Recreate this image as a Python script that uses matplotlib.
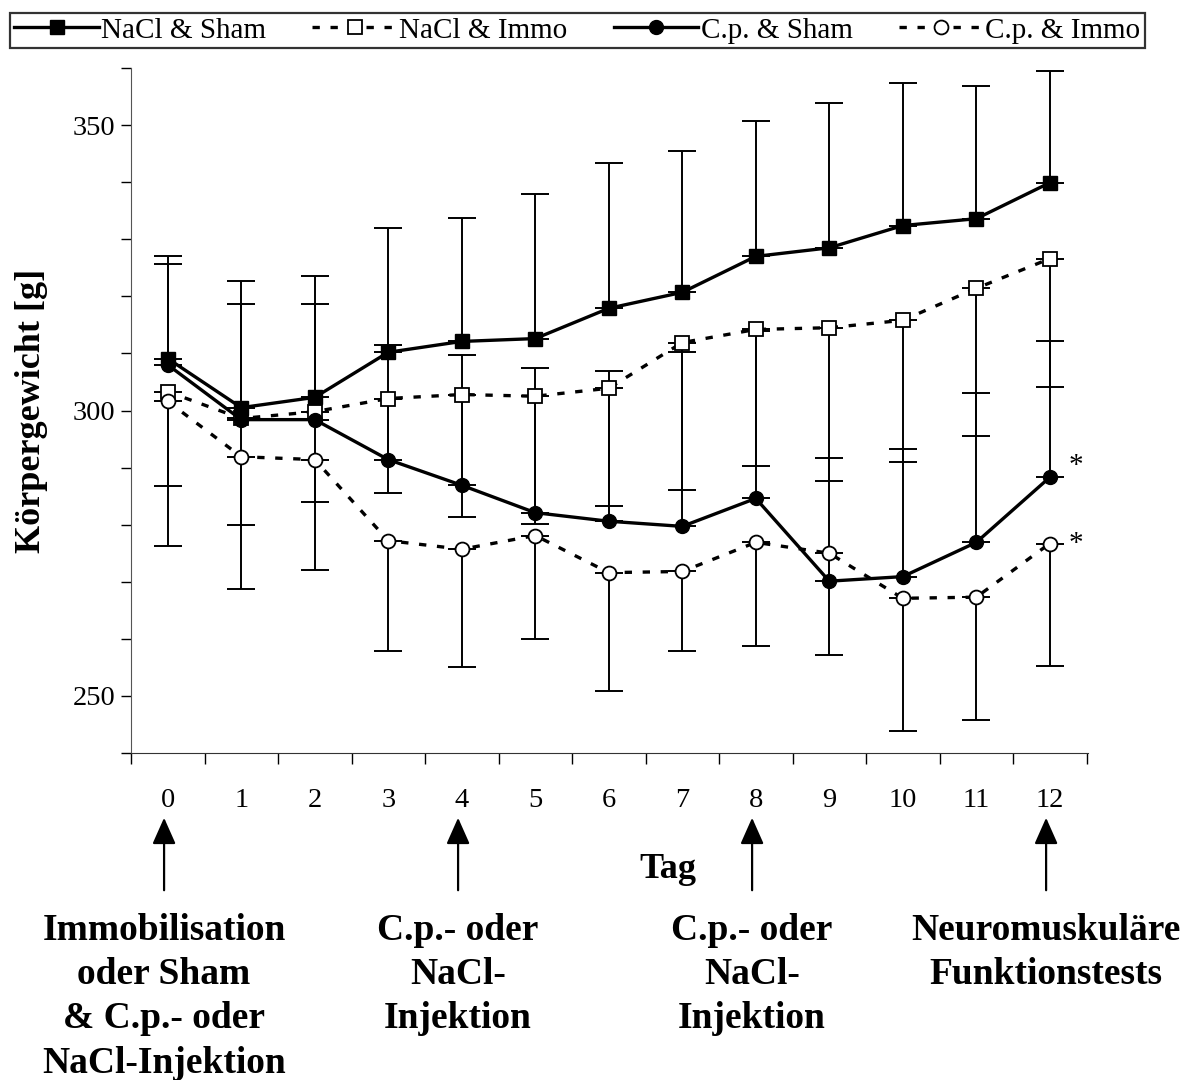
import numpy as np
import matplotlib.pyplot as plt

# Tage und Mittelwerte (Körpergewicht in g)
tage = np.arange(13)
nacl_sham = [309.1, 300.5, 302.3, 310.2, 312.1, 312.6, 317.9, 320.7, 327.0, 328.5, 332.4, 333.6, 339.9]
nacl_immo = [303.3, 298.6, 299.8, 302.1, 302.8, 302.5, 303.9, 311.9, 314.2, 314.5, 315.8, 321.4, 326.6]
cp_sham = [308.0, 298.4, 298.4, 291.4, 286.9, 282.1, 280.6, 279.7, 284.6, 270.1, 270.9, 276.9, 288.3]
cp_immo = [301.6, 291.9, 291.4, 277.2, 275.7, 278.1, 271.6, 271.8, 276.9, 275.0, 267.1, 267.3, 276.7]

# Standardabweichungen (nur eine Richtung gezeichnet)
sd_nacl_sham = [17.9, 22.1, 21.2, 21.7, 21.7, 25.4, 25.4, 24.8, 23.8, 25.4, 24.9, 23.3, 19.5]
sd_nacl_immo = [16.6, 18.7, 15.9, 16.5, 21.4, 22.3, 20.7, 25.9, 24.0, 26.8, 24.9, 25.8, 22.4]
sd_cp_sham = [17.6, 20.3, 20.3, 20.0, 22.9, 25.3, 26.4, 30.6, 29.4, 21.5, 22.4, 26.1, 23.8]
sd_cp_immo = [25.4, 23.1, 19.4, 19.4, 20.7, 18.2, 20.8, 14.0, 18.1, 17.9, 23.3, 21.6, 21.4]

pfeil_tage = [0, 4, 8, 12]
pfeil_texte = ["Immobilisation\noder Sham\n& C.p.- oder\nNaCl-Injektion",
               "C.p.- oder\nNaCl-\nInjektion",
               "C.p.- oder\nNaCl-\nInjektion",
               "Neuromuskuläre\nFunktionstests"]
# Signifikanzsterne neben Tag 12
stern_x = [12.35, 12.35]
stern_y = [290.3, 276.6]

serif = 'Liberation Serif'
plt.rcParams['font.family'] = serif

W, H = 1195, 1080
fig = plt.figure(figsize=(W / 100, H / 100), dpi=100)
ax = fig.add_axes([131 / W, 1 - 753 / H, (1088 - 131) / W, (753 - 68) / H])

null = np.zeros(13)
fehler_stil = dict(fmt='none', ecolor='black', elinewidth=1.4, capsize=10, capthick=1.4, zorder=1)
ax.errorbar(tage, nacl_sham, yerr=[null, sd_nacl_sham], **fehler_stil)
ax.errorbar(tage, cp_sham, yerr=[null, sd_cp_sham], **fehler_stil)
ax.errorbar(tage, nacl_immo, yerr=[sd_nacl_immo, null], **fehler_stil)
ax.errorbar(tage, cp_immo, yerr=[sd_cp_immo, null], **fehler_stil)

strich = (0, (2.2, 3.2))
l1, = ax.plot(tage, nacl_sham, color='black', lw=2.4, marker='s', ms=10,
              mfc='black', mec='black', zorder=4, label='NaCl & Sham')
l2, = ax.plot(tage, nacl_immo, color='black', lw=2.4, ls=strich, marker='s', ms=10,
              mfc='white', mec='black', mew=1.3, zorder=3, label='NaCl & Immo')
l3, = ax.plot(tage, cp_sham, color='black', lw=2.4, marker='o', ms=10,
              mfc='black', mec='black', zorder=4, label='C.p. & Sham')
l4, = ax.plot(tage, cp_immo, color='black', lw=2.4, ls=strich, marker='o', ms=10,
              mfc='white', mec='black', mew=1.3, zorder=3, label='C.p. & Immo')

for x, y in zip(stern_x, stern_y):
    ax.text(x, y, '*', fontsize=21, ha='center', va='center')

ax.set_xlim(-0.5, 12.52)
ax.set_ylim(240, 360)
ax.set_xticks(tage)
ax.set_xticks(np.arange(-0.5, 13, 1), minor=True)
ax.tick_params(axis='x', which='major', length=0, pad=25, labelsize=20.5)
ax.tick_params(axis='x', which='minor', length=8, direction='out', width=1)
ax.set_yticks([250, 300, 350])
ax.set_yticks(np.arange(240, 361, 10), minor=True)
ax.tick_params(axis='y', which='both', length=7, direction='out', width=1)
ax.tick_params(axis='y', which='major', pad=4, labelsize=20.5)
for s in ['top', 'right']:
    ax.spines[s].set_visible(False)
ax.spines['left'].set_color('#555555')
ax.spines['bottom'].set_color('#333333')

fig.text(32 / W, 1 - 411 / H, 'Körpergewicht [g]', rotation=90, fontsize=26,
         fontweight='bold', ha='center', va='center')
fig.text(668 / W, 1 - 870 / H, 'Tag', fontsize=26, fontweight='bold',
         ha='center', va='center')

# Pfeile und Beschriftungen
for t, txt in zip(pfeil_tage, pfeil_texte):
    ax.annotate('', xy=(t - 0.05, 1 - 815 / H), xytext=(t - 0.05, 1 - 893 / H),
                xycoords=('data', 'figure fraction'), textcoords=('data', 'figure fraction'),
                arrowprops=dict(arrowstyle='-|>,head_length=0.9,head_width=0.4',
                                mutation_scale=18, lw=1.6, color='black'),
                annotation_clip=False)
    ax.annotate(txt, xy=(t - 0.05, 1 - 913 / H), xycoords=('data', 'figure fraction'),
                ha='center', va='top', fontsize=27, fontweight='bold',
                linespacing=1.34, annotation_clip=False)

leg = fig.legend(handles=[l1, l2, l3, l4], loc='lower left', ncol=4, mode='expand',
                 bbox_to_anchor=(10 / W, 1 - 48 / H, 1135 / W, 38 / H),
                 fontsize=21, frameon=True, fancybox=False, edgecolor='black',
                 handlelength=2.9, handletextpad=0.08, columnspacing=1.0,
                 borderpad=0.15, borderaxespad=0)
leg.get_frame().set_linewidth(1.6)

fig.savefig('out.png', dpi=100)
